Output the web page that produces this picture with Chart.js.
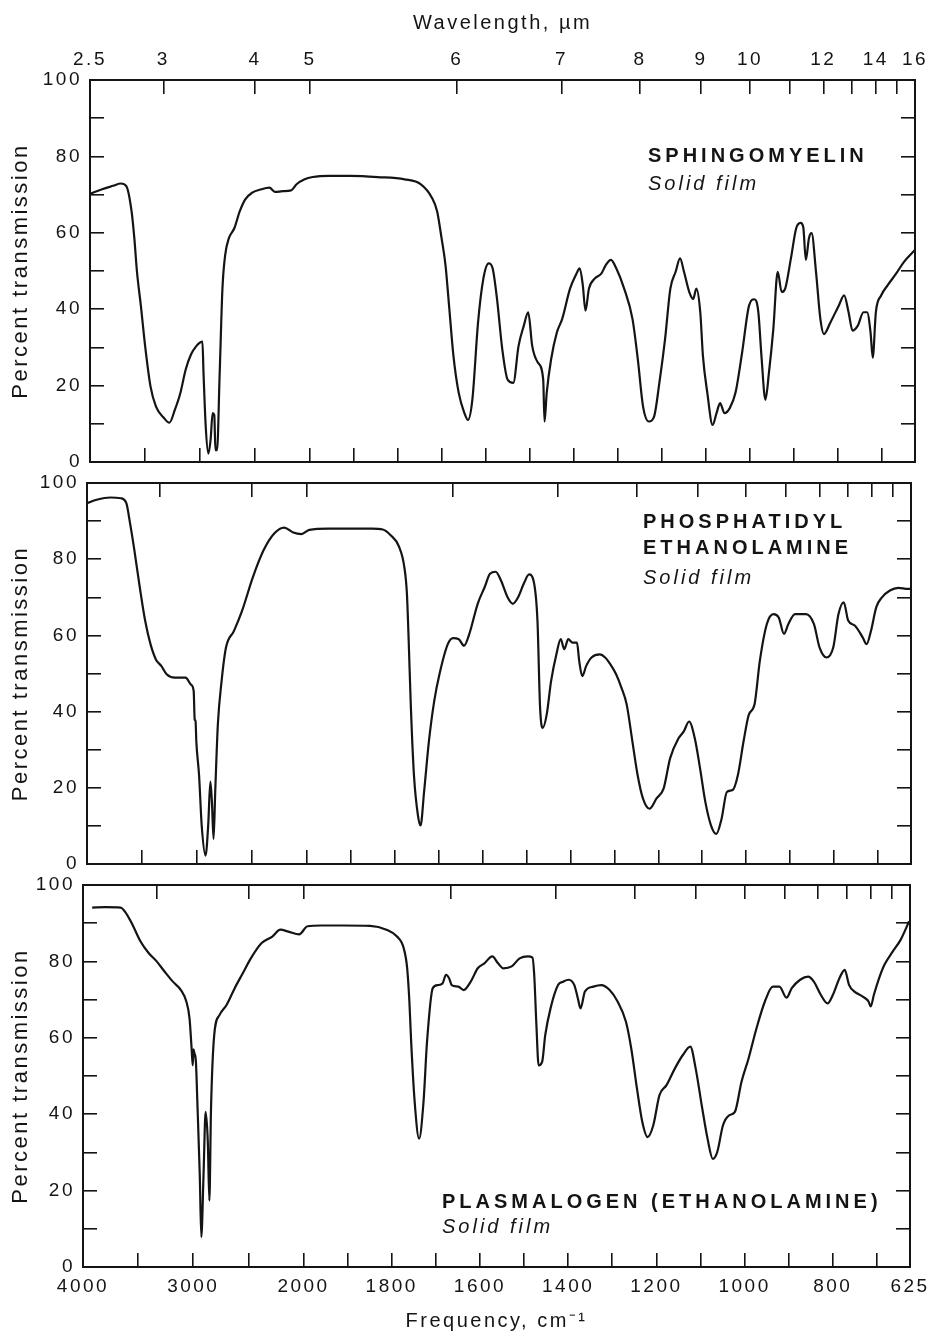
<!DOCTYPE html>
<html>
<head>
<meta charset="utf-8">
<script src="https://cdn.jsdelivr.net/npm/chart.js@4.4.1/dist/chart.umd.min.js"></script>
<style>
  html, body { margin: 0; background: #fff; }
  #page { position: relative; width: 936px; height: 1337px; overflow: hidden; }
  canvas { position: absolute; left: 0; }
</style>
</head>
<body>
<div id="page">
  <canvas id="sphingo" width="936" height="490" style="top:0px"></canvas>
  <canvas id="pe" width="936" height="430" style="top:455px"></canvas>
  <canvas id="plas" width="936" height="477" style="top:860px"></canvas>
</div>
<script>
// [frequency cm-1, percent transmission]
const sphingomyelin = [
  [4000, 70.2], [3890, 71.4], [3790, 72.3], [3720, 72.9], [3670, 72.2], [3622, 65.6], [3597, 58.6],
  [3573, 49.8], [3538, 41], [3499, 30.4], [3450, 19.8], [3400, 14.5], [3327, 11.5], [3278, 10.3],
  [3228, 13.7], [3179, 18], [3130, 24.2], [3081, 28.2], [3032, 30.4], [2998, 31.3], [2978, 31.5],
  [2968, 23.3], [2948, 9.3], [2924, 2.2], [2904, 5.7], [2885, 12.8], [2870, 12.3], [2860, 3.1],
  [2845, 3.1], [2821, 23.3], [2796, 45.4], [2771, 54.2], [2737, 58.6], [2688, 61.2], [2639, 65.6],
  [2590, 68.7], [2526, 70.5], [2442, 71.4], [2369, 71.8], [2319, 70.7], [2246, 70.9], [2172, 71.1],
  [2122, 72.7], [2049, 74], [1994, 74.6], [1957, 74.9], [1908, 74.9], [1846, 74.6], [1785, 74],
  [1748, 72.7], [1723, 69.2], [1711, 65.6], [1701, 58.6], [1692, 51.5], [1684, 41], [1674, 27.8],
  [1662, 18.1], [1649, 12.8], [1641, 11], [1631, 16.3], [1618, 36.6], [1606, 48], [1594, 52],
  [1585, 50.7], [1575, 42.7], [1563, 29.5], [1551, 21.6], [1538, 20.7], [1526, 30.4], [1514, 35.7],
  [1504, 39.2], [1495, 30.4], [1482, 26], [1470, 21.6], [1467, 10.6], [1462, 18.1], [1452, 26.9],
  [1439, 33.9], [1427, 37.4], [1409, 45.4], [1396, 48.9], [1387, 50.7], [1380, 46.3], [1374, 39.6],
  [1366, 45.4], [1353, 48], [1338, 49.3], [1328, 51.5], [1316, 52.9], [1304, 50.7], [1286, 45.4],
  [1267, 37.4], [1255, 26.9], [1243, 14.5], [1230, 10.6], [1218, 11.9], [1206, 20.7], [1193, 32.2],
  [1181, 45.4], [1169, 49.8], [1159, 53.3], [1150, 49.8], [1138, 44.5], [1129, 42.7], [1122, 45.4],
  [1113, 39.2], [1107, 27.8], [1097, 18.1], [1085, 9.7], [1076, 12.8], [1068, 15.4], [1058, 12.8],
  [1046, 14.1], [1033, 18.1], [1018, 28.6], [1002, 41], [990, 42.6], [981, 39.2], [974, 27.8],
  [965, 16.3], [957, 23.3], [947, 34.8], [937, 49.8], [928, 44.5], [920, 45.4], [907, 53.3],
  [895, 61.2], [885, 62.6], [879, 61.5], [873, 52.9], [866, 58.6], [860, 59.9], [850, 49.8],
  [840, 37.4], [832, 33.5], [817, 36.6], [798, 41], [786, 43.6], [776, 39.2], [767, 34.4],
  [755, 35.7], [742, 39.2], [734, 39.2], [726, 33.9], [721, 27.3], [714, 39.2], [702, 43.6],
  [687, 46.3], [668, 49.3], [650, 52.4], [625, 55.5]
];

const phosphatidylEthanolamine = [
  [4000, 94.7], [3912, 95.6], [3789, 96.2], [3691, 96], [3642, 94.7], [3608, 89.4], [3569, 82.4],
  [3520, 72.7], [3471, 63.9], [3422, 57.7], [3373, 53.7], [3324, 52], [3275, 49.8], [3201, 48.9],
  [3103, 48.9], [3054, 47.1], [3029, 45.4], [3020, 38], [3012, 37.5], [3005, 32.2], [2980, 23.3],
  [2956, 10.1], [2921, 2.2], [2897, 10.1], [2877, 21.6], [2863, 16.3], [2848, 6.6], [2833, 18.9],
  [2809, 36.6], [2775, 48], [2735, 56.8], [2662, 61.2], [2588, 66.5], [2490, 75.3], [2392, 82.4],
  [2294, 86.8], [2206, 88.3], [2123, 87], [2049, 86.6], [1994, 87.7], [1951, 88], [1901, 88],
  [1852, 88], [1827, 87.8], [1809, 86.3], [1790, 83.3], [1778, 78], [1772, 70.9], [1768, 58.6],
  [1763, 41], [1756, 23.3], [1747, 12.8], [1741, 10.1], [1733, 18.9], [1722, 32.2], [1710, 42.7],
  [1698, 49.8], [1679, 57.7], [1667, 59.3], [1654, 59], [1642, 57.3], [1630, 60.4], [1611, 68.3],
  [1595, 72.7], [1583, 76.2], [1570, 76.7], [1558, 74.4], [1543, 70], [1531, 68.3], [1519, 70],
  [1506, 73.6], [1494, 76], [1484, 74.4], [1475, 63.9], [1469, 41], [1463, 35.7], [1454, 39.2],
  [1444, 48], [1432, 55], [1422, 59], [1414, 56.4], [1405, 59], [1395, 58.1], [1385, 58.1],
  [1380, 53.3], [1373, 49.3], [1364, 52], [1352, 54.2], [1333, 55], [1321, 54.2], [1309, 52.4],
  [1296, 49.8], [1284, 46.3], [1272, 41.9], [1259, 32.2], [1247, 23.3], [1235, 17.2], [1220, 14.5],
  [1204, 17.2], [1188, 19.8], [1173, 27.8], [1154, 33], [1142, 34.8], [1130, 37.4], [1117, 33],
  [1105, 25.1], [1093, 16.3], [1080, 10.1], [1068, 7.9], [1056, 11.9], [1044, 18.9], [1031, 19.4],
  [1019, 23.3], [1006, 32.2], [994, 39.2], [981, 41.9], [969, 53.3], [953, 63], [938, 65.6],
  [926, 64.7], [914, 60.4], [904, 63], [889, 65.6], [864, 65.6], [846, 63], [833, 56.8],
  [817, 54.2], [802, 56.8], [790, 65.6], [778, 68.7], [768, 63.9], [753, 62.6], [735, 59.5],
  [726, 57.7], [716, 61.2], [704, 67.4], [691, 70], [673, 71.8], [654, 72.5], [632, 72.2], [625, 72.2]
];

const plasmalogen = [
  [3917, 94.1], [3795, 94.2], [3659, 94.1], [3600, 92.2], [3551, 89.6], [3478, 85.2], [3405, 82.2],
  [3332, 80], [3259, 77.3], [3185, 74.7], [3112, 72.5], [3063, 69.5], [3034, 65.1], [3015, 57.2],
  [3005, 52.8], [2998, 57], [2990, 56], [2976, 53.7], [2961, 41.5], [2941, 24], [2927, 7.8],
  [2907, 24], [2888, 40.6], [2868, 32.7], [2854, 17.4], [2839, 41.5], [2810, 60.7], [2761, 66],
  [2698, 68.6], [2624, 73], [2551, 76.9], [2478, 80.8], [2380, 84.8], [2283, 86.5], [2210, 88.3],
  [2137, 87.8], [2039, 87.1], [1991, 89.2], [1960, 89.4], [1911, 89.4], [1849, 89.3], [1812, 88.3],
  [1788, 86.5], [1773, 83.5], [1765, 78.2], [1760, 69.5], [1756, 59], [1748, 43.2], [1738, 33.6],
  [1728, 43.2], [1720, 59], [1707, 73], [1695, 73.8], [1685, 74.2], [1677, 76.5], [1670, 75.6],
  [1664, 73.8], [1649, 73.4], [1637, 72.5], [1621, 74.7], [1605, 78.2], [1590, 79.5], [1572, 81.3],
  [1559, 79.5], [1547, 78.2], [1528, 78.7], [1510, 80.8], [1491, 81.3], [1481, 81], [1477, 76.5],
  [1472, 63.3], [1467, 52.8], [1459, 53.7], [1452, 60.7], [1440, 67.7], [1423, 73.8], [1411, 74.7],
  [1399, 75.2], [1386, 73.8], [1378, 70.3], [1372, 67.7], [1362, 72.1], [1343, 73.4], [1325, 73.8],
  [1306, 72.5], [1288, 69.5], [1269, 64.2], [1257, 57.2], [1244, 46.7], [1232, 38], [1220, 34],
  [1207, 37.1], [1193, 45], [1177, 47.6], [1158, 52], [1140, 55.5], [1123, 57.7], [1111, 52],
  [1096, 41.5], [1084, 33.6], [1072, 28.3], [1062, 30.1], [1049, 37.1], [1035, 39.7], [1022, 40.6],
  [1007, 48.5], [991, 54.6], [973, 62.5], [954, 69.5], [936, 73.4], [921, 73.4], [905, 70.5],
  [893, 73], [874, 75.2], [856, 76], [843, 74.7], [827, 71.2], [812, 69], [800, 71.2], [785, 75.6],
  [773, 77.8], [763, 73.8], [751, 72.1], [732, 70.8], [719, 69.5], [714, 68.2], [707, 71.2],
  [695, 75.6], [683, 79.1], [664, 82.6], [646, 85.7], [627, 90.5]
];

const freqTicks = [4000, 3500, 3000, 2500, 2000, 1900, 1800, 1700, 1600, 1500, 1400, 1300, 1200,
  1100, 1000, 900, 800, 700, 625];
const freqLabels = [4000, 3000, 2000, 1800, 1600, 1400, 1200, 1000, 800, 625];
const wavelengthTicks = [2.5, 3, 4, 5, 6, 7, 8, 9, 10, 11, 12, 13, 14, 15, 16];
const wavelengthLabels = [2.5, 3, 4, 5, 6, 7, 8, 9, 10, 12, 14, 16];
const transTicks = [0, 10, 20, 30, 40, 50, 60, 70, 80, 90, 100];
const transLabels = [0, 20, 40, 60, 80, 100];

const INK = '#141414';
const FONT = "'Liberation Sans', Arial, Helvetica, sans-serif";
Chart.defaults.font.family = FONT;
Chart.defaults.color = INK;

// grating chart: 4000-2000 is drawn at a quarter of the scale of 2000-625
function irPos(f) {
    return f >= 2000 ? (4000 - f) / 4 : 500 + (2000 - f);
}

class IrScale extends Chart.LinearScale {
    static id = 'ir';
    static defaults = {};

    getPixelForValue(value) {
        if (value === null || value === undefined) return NaN;
        return this.left + (this.right - this.left) * irPos(value) / irPos(625);
    }

    getValueForPixel(pixel) {
        const p = (pixel - this.left) / (this.right - this.left) * irPos(625);
        return p <= 500 ? 4000 - p * 4 : 2000 - (p - 500);
    }
}
Chart.register(IrScale);

// keep each frame exactly where it is on the page: fixed box sizes, no label overhang
function fixBox(size, key) {
    return s => {
        s[key] = size;
        s.paddingLeft = s.paddingRight = s.paddingTop = s.paddingBottom = 0;
    };
}

// typewriter-like spacing of the original lettering
const letterSpacing = {
    id: 'letterSpacing',
    beforeDraw(chart) {
        chart.ctx.letterSpacing = '2.5px';
    }
};

const panelText = {
    id: 'panelText',
    afterDraw(chart, args, opts) {
        const ctx = chart.ctx;
        ctx.save();
        ctx.fillStyle = INK;
        ctx.textAlign = 'left';
        ctx.textBaseline = 'alphabetic';
        (opts.lines || []).forEach(l => {
            ctx.font = l.font;
            ctx.letterSpacing = l.spacing;
            ctx.fillText(l.text, l.x, l.y);
        });
        ctx.restore();
    }
};

const frameGrid = {
    display: true,
    drawOnChartArea: false,
    drawTicks: true,
    tickLength: -14,
    color: INK,
    lineWidth: 1.6
};
const frameBorder = {display: true, color: INK, width: 2};

const nameFont = 'bold 20px ' + FONT;
const subFont = 'italic 20px ' + FONT;

function makePanel(id, series, cfg) {
    return new Chart(document.getElementById(id), {
        type: 'line',
        data: {
            datasets: [{
                data: series.map(([f, t]) => ({x: f, y: t})),
                borderColor: INK,
                borderWidth: 2.2,
                pointRadius: 0,
                cubicInterpolationMode: 'monotone',
                fill: false
            }]
        },
        options: {
            responsive: false,
            animation: false,
            events: [],
            layout: {padding: 0},
            plugins: {
                legend: {display: false},
                tooltip: {enabled: false},
                panelText: {lines: cfg.lines}
            },
            scales: {
                x: {
                    type: 'ir',
                    position: 'bottom',
                    min: 625,
                    max: 4000,
                    afterBuildTicks: s => { s.ticks = freqTicks.map(v => ({value: v})); },
                    afterFit: fixBox(cfg.h - cfg.bottom, 'height'),
                    grid: frameGrid,
                    border: frameBorder,
                    ticks: {
                        display: cfg.showFreq,
                        autoSkip: false,
                        maxRotation: 0,
                        padding: 22,
                        font: {size: 19},
                        callback: v => freqLabels.includes(v) ? String(v) : ''
                    },
                    title: {
                        display: cfg.showFreq,
                        text: 'Frequency, cm\u207B\u00B9',
                        font: {size: 20},
                        padding: {bottom: 4}
                    }
                },
                xt: {
                    type: 'ir',
                    position: 'top',
                    min: 625,
                    max: 4000,
                    afterBuildTicks: s => {
                        s.ticks = wavelengthTicks.map(w => ({value: 10000 / w, w: w}));
                    },
                    afterFit: fixBox(cfg.top, 'height'),
                    grid: frameGrid,
                    border: frameBorder,
                    ticks: {
                        display: cfg.showWave,
                        autoSkip: false,
                        maxRotation: 0,
                        padding: 23,
                        font: {size: 19},
                        callback: (v, i, ticks) => wavelengthLabels.includes(ticks[i].w) ? String(ticks[i].w) : ''
                    },
                    title: {
                        display: cfg.showWave,
                        text: 'Wavelength, \u00B5m',
                        font: {size: 20},
                        padding: {top: 11}
                    }
                },
                y: {
                    position: 'left',
                    min: 0,
                    max: 100,
                    afterBuildTicks: s => { s.ticks = transTicks.map(v => ({value: v})); },
                    afterFit: fixBox(cfg.left, 'width'),
                    grid: frameGrid,
                    border: frameBorder,
                    ticks: {
                        padding: 22,
                        font: {size: 19},
                        callback: v => transLabels.includes(v) ? String(v) : ''
                    },
                    title: {
                        display: true,
                        text: 'Percent transmission',
                        font: {size: 22},
                        padding: {top: 8}
                    }
                },
                yr: {
                    position: 'right',
                    min: 0,
                    max: 100,
                    afterBuildTicks: s => { s.ticks = transTicks.map(v => ({value: v})); },
                    afterFit: fixBox(936 - cfg.right, 'width'),
                    grid: frameGrid,
                    border: frameBorder,
                    ticks: {display: false}
                }
            }
        },
        plugins: [letterSpacing, panelText]
    });
}

makePanel('sphingo', sphingomyelin, {
    h: 490, left: 90, right: 915, top: 80, bottom: 462,
    showWave: true, showFreq: false,
    lines: [
        {text: 'SPHINGOMYELIN', font: nameFont, spacing: '4px', x: 648, y: 162},
        {text: 'Solid film', font: subFont, spacing: '3px', x: 648, y: 190}
    ]
});

makePanel('pe', phosphatidylEthanolamine, {
    h: 430, left: 87, right: 911, top: 28, bottom: 409,
    showWave: false, showFreq: false,
    lines: [
        {text: 'PHOSPHATIDYL', font: nameFont, spacing: '4px', x: 643, y: 73},
        {text: 'ETHANOLAMINE', font: nameFont, spacing: '4px', x: 643, y: 99},
        {text: 'Solid film', font: subFont, spacing: '3px', x: 643, y: 129}
    ]
});

makePanel('plas', plasmalogen, {
    h: 477, left: 83, right: 910, top: 25, bottom: 407,
    showWave: false, showFreq: true,
    lines: [
        {text: 'PLASMALOGEN (ETHANOLAMINE)', font: nameFont, spacing: '4px', x: 442, y: 348},
        {text: 'Solid film', font: subFont, spacing: '3px', x: 442, y: 373}
    ]
});
</script>
</body>
</html>
